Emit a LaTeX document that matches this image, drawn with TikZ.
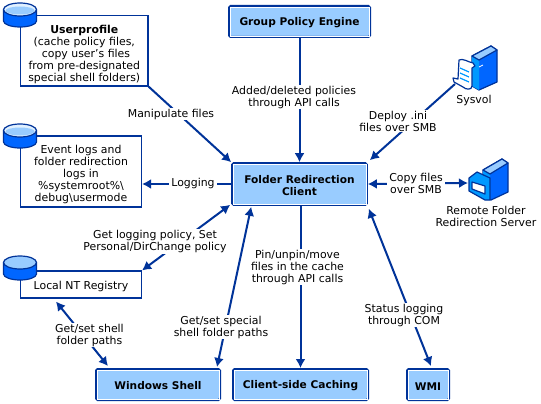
\documentclass[tikz,border=0pt]{standalone}
\usepackage{fontspec}
\setmainfont{DejaVu Sans}
\usetikzlibrary{arrows.meta,calc}
\definecolor{navy}{HTML}{003399}
\definecolor{sky}{HTML}{99CCFF}
\definecolor{royal}{HTML}{0066FF}
\definecolor{azure}{HTML}{0099FF}
\definecolor{pale}{HTML}{E0F0FF}
\newcommand{\lowerfirst}{\rule{0pt}{15pt}}
\tikzset{
  x=1pt,y=-1pt,
  every node/.style={font=\fontsize{10.9}{12}\selectfont,align=center,inner sep=0pt},
  engine/.style={draw=navy,fill=sky,line width=2pt,rounded corners=1.5pt,font=\fontsize{10.6}{12}\selectfont\bfseries},
  store/.style={draw=navy,fill=white,line width=1.1pt},
  lbl/.style={fill=white,inner xsep=2pt,inner ysep=1pt},
  link/.style={draw=navy,line width=2pt,-{Latex[length=9pt,width=10pt]}},
  both/.style={draw=navy,line width=2pt,{Latex[length=9pt,width=10pt]}-{Latex[length=9pt,width=10pt]}},
  icon/.style={draw=navy,line width=1.2pt,line join=round},
  pics/dbcyl/.style={code={
    \draw[icon,fill=royal] (-16.5,-5) -- (-16.5,6) arc[start angle=180,end angle=360,x radius=16.5,y radius=-6] -- (16.5,-5) -- cycle;
    \draw[icon,fill=#1] (0,-5.5) ellipse[x radius=16.5,y radius=6.5];
  }},
}
\begin{document}
\begin{tikzpicture}
\useasboundingbox (0,0) rectangle (541,404);
\fill[white] (0,0) rectangle (541,404);

% storage boxes
\node[store,minimum width=127.5pt,minimum height=70.5pt] (up) at (84.25,50.75) {\lowerfirst\textbf{Userprofile}\\(cache policy files,\\ \ copy user's files\\from pre-designated\\special shell folders)};
\node[store,minimum width=121pt,minimum height=71pt] (ev) at (81,171.5) {\lowerfirst Event logs and\\folder redirection\\logs in\\\%systemroot\%\textbackslash\\debug\textbackslash usermode};
\node[store,minimum width=121pt,minimum height=27pt] (nt) at (81,284.5) {\rule{0pt}{13pt}Local NT Registry};

% cylinders
\draw[navy,line width=1.1pt] (20.5,27) -- (20.5,15.5);
\pic at (20,15) {dbcyl=pale};
\pic at (20,136) {dbcyl=pale};
\pic at (20,268) {dbcyl=sky};
\fill[sky] (20,10.5) ellipse[x radius=14.5,y radius=4];
\fill[sky] (20,131.5) ellipse[x radius=14.5,y radius=4];

% engines
\node[engine,minimum width=141pt,minimum height=31pt] (gp) at (299.5,21.5) {\rule{0pt}{11pt}Group Policy Engine};
\node[engine,line width=1.6pt,minimum width=135pt,minimum height=42pt] (fr) at (299.5,184) {\rule{0pt}{11pt}Folder Redirection\\Client};
\node[engine,minimum width=124pt,minimum height=31pt] (ws) at (158,384.5) {\rule{0pt}{11pt}Windows Shell};
\node[engine,minimum width=135pt,minimum height=31pt] (cc) at (300.5,384.5) {\rule{0pt}{11pt}Client-side Caching};
\node[engine,minimum width=42pt,minimum height=31pt] (wm) at (428,384.5) {\rule{0pt}{11pt}WMI};
\foreach \n/\o in {gp/2,ws/2,cc/2,wm/2,fr/1.7}
  \draw[white,line width=.8pt] ([shift={(\o,\o)}]\n.north west) rectangle ([shift={(-\o,-\o)}]\n.south east);

% icon anchors
\coordinate (sv) at (455,84);
\coordinate (rf) at (468,183);

% Sysvol icon
\draw[icon,fill=royal] (472,56) -- (491,46) -- (497,50) -- (497,82) -- (479,90) -- (472,86) -- cycle;
\fill[azure] (472,56) -- (479,60) -- (479,90) -- (472,86) -- cycle;
\draw[icon,fill=sky] (472,56) -- (491,46) -- (497,50) -- (479,60) -- cycle;
\draw[white,line width=.8pt] (483,65) -- (479,67);
\draw[icon,fill=white] (459,60) .. controls (463,58) and (468,62) .. (473,63) -- (475,66) -- (472,68) -- (472,86) .. controls (472,90) and (466,90) .. (463,87) -- (454,82) -- (453,78) -- (458,79) -- cycle;
\draw[azure,line width=1.2pt] (460,68) -- (469,72) (460,73) -- (469,77) (460,78) -- (469,82);

% Remote server icon
\draw[icon,fill=royal] (483,170) -- (502,159) -- (508,163) -- (508,192) -- (491,200) -- (483,196) -- cycle;
\fill[azure] (483,170) -- (490,174) -- (490,199) -- (483,196) -- cycle;
\draw[icon,fill=sky] (483,170) -- (502,159) -- (508,163) -- (490,174) -- cycle;
\draw[icon,fill=azure] (469,178) -- (477,172) -- (490,178) -- (490,200) -- (485,200) -- (469,191) -- cycle;
\draw[icon,fill=white] (472,182) -- (485,186) -- (485,194) -- (472,189) -- cycle;

% connectors
\draw[link] (up.south east) -- (fr.north west);
\draw[link] (fr.west) -- (fr.west -| ev.east);
\draw[link] (gp.south) -- (fr.north);
\draw[link] (sv) -- ([shift={(2,-2)}]fr.north east);
\draw[both] (fr.east) -- (rf);
\draw[both] ([shift={(-1,-1)}]fr.south west) -- (nt.north east);
\draw[both] ([shift={(-4,-1)}]ws.north east) -- ([shift={(20,1)}]fr.south west);
\draw[both] ([shift={(-25,3)}]nt.south) -- ([shift={(-50,-2)}]ws.north);
\draw[link] (cc.north |- fr.south) -- (cc.north);
\draw[both] ([shift={(3,-2)}]wm.north) -- ([shift={(1,3)}]fr.south east);

% labels
\node[lbl] (l1) at (171,114) {Manipulate files};
\node[lbl] (l2) at (193,183) {Logging};
\node[lbl] (l3) at (294,97) {Added/deleted policies\\through API calls};
\node[lbl] (l4) at (398,121) {Deploy .ini\\files over SMB};
\node[lbl] (l5) at (416,183) {Copy files\\over SMB};
\node[lbl] (l6) at (155,241.5) {Get logging policy, Set\\Personal/DirChange policy};
\node[lbl] (l7) at (89.5,335) {Get/set shell\\folder paths};
\node[lbl] (l8) at (221,327) {Get/set special\\shell folder paths};
\node[lbl] (l9) at (297.5,267) {Pin/unpin/move\\files in the cache\\through API calls};
\node[lbl] (l10) at (404,315) {Status logging\\through COM};
\node (sy) at (474,100) {Sysvol};
\node (rs) at (486,216) {Remote Folder\\Redirection Server};
\end{tikzpicture}
\end{document}
